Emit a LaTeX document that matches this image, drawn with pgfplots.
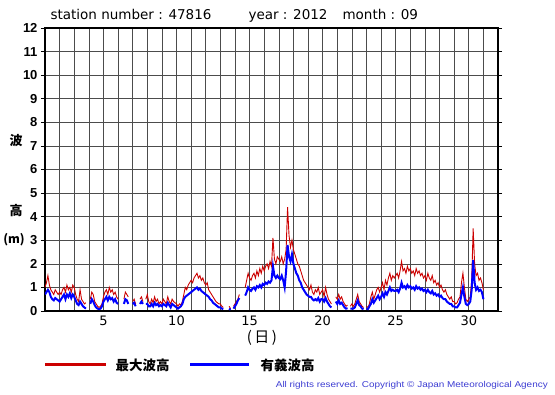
\documentclass[border=0pt]{standalone}
\usepackage{pgfplots}
\pgfplotsset{compat=1.18}
\usepackage{pgfplotstable}
\usepackage{fontspec}
\setmainfont{DejaVu Sans}
\newfontfamily\lib{Liberation Sans}
\newfontfamily\jp{Noto Sans CJK JP}
\definecolor{wred}{RGB}{204,0,0}
\definecolor{wblue}{RGB}{0,0,255}
\definecolor{cpblue}{RGB}{60,60,210}

\pgfplotstableread{
x r b
1.0 1.0 0.7
1.1 1.2 0.8
1.2 1.5 0.9
1.3 1.1 0.8
1.4 0.9 0.6
1.5 0.8 0.5
1.6 0.7 0.45
1.7 0.9 0.55
1.8 0.8 0.5
1.9 0.7 0.45
2.0 0.8 0.4
2.1 0.7 0.5
2.2 0.9 0.6
2.3 1.0 0.7
2.4 0.8 0.5
2.5 1.1 0.7
2.6 0.9 0.6
2.7 1.0 0.75
2.8 0.8 0.55
2.9 1.1 0.7
3.0 1.0 0.6
3.1 0.7 0.45
3.2 0.5 0.3
3.3 0.4 0.25
3.4 0.9 0.4
3.5 0.5 0.3
3.6 0.4 0.2
3.7 0.3 0.15
3.8 0.35 0.1
3.9 nan nan
4.0 nan nan
4.1 0.5 0.3
4.2 0.8 0.5
4.3 0.7 0.4
4.4 0.4 0.25
4.5 0.3 0.15
4.6 0.2 0.1
4.7 0.15 0.08
4.8 0.2 0.1
4.9 0.3 0.2
5.0 0.6 0.4
5.1 0.8 0.5
5.2 0.9 0.6
5.3 0.7 0.45
5.4 1.0 0.6
5.5 0.8 0.5
5.6 0.9 0.55
5.7 0.7 0.4
5.8 0.8 0.5
5.9 0.6 0.35
6.0 0.5 0.3
6.1 nan nan
6.2 0.6 0.4
6.3 nan nan
6.4 0.5 0.3
6.5 0.8 0.5
6.6 0.7 0.45
6.7 0.6 0.3
6.8 nan nan
6.9 nan nan
7.0 0.4 0.3
7.1 0.5 0.35
7.2 0.3 0.2
7.3 nan nan
7.4 nan nan
7.5 0.5 0.3
7.6 0.6 0.4
7.7 0.4 0.3
7.8 nan nan
7.9 0.5 0.3
8.0 0.7 0.3
8.1 0.4 0.2
8.2 0.3 0.2
8.3 0.5 0.3
8.4 0.35 0.2
8.5 0.6 0.35
8.6 0.4 0.25
8.7 0.5 0.3
8.8 0.3 0.2
8.9 0.4 0.25
9.0 0.3 0.2
9.1 0.5 0.3
9.2 0.4 0.25
9.3 0.3 0.2
9.4 0.6 0.35
9.5 0.4 0.25
9.6 0.3 0.15
9.7 0.5 0.3
9.8 0.4 0.25
9.9 0.35 0.2
10.0 0.3 0.15
10.1 0.2 0.1
10.2 0.3 0.15
10.3 0.25 0.2
10.4 0.4 0.3
10.5 0.7 0.5
10.6 1.0 0.6
10.7 0.9 0.65
10.8 1.1 0.7
10.9 1.2 0.75
11.0 1.3 0.8
11.1 1.2 0.85
11.2 1.4 0.9
11.3 1.5 0.95
11.4 1.6 1.0
11.5 1.4 0.9
11.6 1.5 0.95
11.7 1.3 0.85
11.8 1.4 0.8
11.9 1.2 0.75
12.0 1.1 0.7
12.1 1.2 0.65
12.2 0.9 0.6
12.3 0.8 0.5
12.4 0.7 0.45
12.5 0.6 0.35
12.6 0.5 0.3
12.7 0.4 0.25
12.8 0.35 0.2
12.9 0.3 0.15
13.0 0.3 0.15
13.1 0.2 0.1
13.2 0.15 0.08
13.3 nan nan
13.4 0.1 0.05
13.5 nan nan
13.6 0.2 0.1
13.7 0.1 0.05
13.8 nan nan
13.9 0.2 0.1
14.0 0.3 0.2
14.1 0.4 0.3
14.2 0.5 0.45
14.3 0.7 0.55
14.4 nan nan
14.5 nan nan
14.6 nan nan
14.7 1.0 0.65
14.8 1.3 0.8
14.9 1.6 1.0
15.0 1.4 0.9
15.1 1.3 0.85
15.2 1.5 0.95
15.3 1.6 1.0
15.4 1.4 0.9
15.5 1.7 1.05
15.6 1.5 1.0
15.7 1.8 1.1
15.8 1.6 1.0
15.9 1.9 1.15
16.0 1.7 1.1
16.1 1.9 1.2
16.2 2.0 1.15
16.3 1.8 1.25
16.4 2.1 1.2
16.5 1.9 1.3
16.6 3.1 1.9
16.7 2.2 1.5
16.8 2.0 1.4
16.9 2.3 1.5
17.0 2.2 1.4
17.1 2.1 1.35
17.2 2.3 1.5
17.3 2.0 1.3
17.4 2.2 1.0
17.5 2.6 1.7
17.6 4.4 2.8
17.7 3.2 2.3
17.8 2.7 2.1
17.9 3.0 2.4
18.0 2.6 2.0
18.1 2.4 1.8
18.2 2.2 1.6
18.3 2.0 1.5
18.4 1.9 1.3
18.5 1.7 1.2
18.6 1.5 1.0
18.7 1.3 0.9
18.8 1.2 0.8
18.9 1.1 0.7
19.0 1.0 0.65
19.1 0.9 0.6
19.2 1.1 0.6
19.3 0.8 0.5
19.4 0.7 0.45
19.5 0.9 0.5
19.6 0.8 0.45
19.7 1.0 0.55
19.8 0.7 0.4
19.9 0.8 0.5
20.0 0.9 0.5
20.1 0.6 0.4
20.2 1.0 0.55
20.3 0.7 0.4
20.4 0.5 0.3
20.5 0.4 0.2
20.6 0.3 0.15
20.7 nan nan
20.8 nan nan
20.9 0.6 0.4
21.0 0.5 0.3
21.1 0.7 0.45
21.2 0.5 0.3
21.3 0.6 0.35
21.4 0.4 0.25
21.5 0.3 0.15
21.6 0.2 0.1
21.7 0.25 0.12
21.8 nan nan
21.9 0.2 0.1
22.0 0.3 0.1
22.1 0.2 0.1
22.2 0.3 0.15
22.3 0.5 0.3
22.4 0.7 0.45
22.5 0.4 0.25
22.6 0.3 0.2
22.7 0.2 0.1
22.8 0.15 0.08
22.9 nan nan
23.0 0.2 0.1
23.1 0.15 0.08
23.2 0.3 0.2
23.3 0.6 0.3
23.4 0.8 0.5
23.5 0.5 0.35
23.6 0.7 0.45
23.7 0.9 0.55
23.8 1.0 0.65
23.9 0.8 0.5
24.0 1.0 0.6
24.1 1.2 0.75
24.2 0.9 0.6
24.3 1.3 0.8
24.4 1.1 0.7
24.5 1.4 0.85
24.6 1.6 1.0
24.7 1.3 0.85
24.8 1.5 0.9
24.9 1.4 0.85
25.0 1.5 0.85
25.1 1.6 0.9
25.2 1.4 0.8
25.3 1.7 0.95
25.4 2.1 1.2
25.5 1.7 1.0
25.6 1.8 1.05
25.7 1.6 0.95
25.8 1.9 1.1
25.9 1.7 1.0
26.0 1.8 1.05
26.1 1.6 0.95
26.2 1.7 1.0
26.3 1.5 0.9
26.4 1.8 1.05
26.5 1.6 0.95
26.6 1.7 1.0
26.7 1.5 0.9
26.8 1.6 0.95
26.9 1.4 0.85
27.0 1.5 0.9
27.1 1.3 0.8
27.2 1.6 0.9
27.3 1.4 0.8
27.4 1.3 0.75
27.5 1.5 0.85
27.6 1.2 0.7
27.7 1.3 0.75
27.8 1.1 0.65
27.9 1.2 0.7
28.0 1.0 0.6
28.1 1.1 0.65
28.2 0.9 0.55
28.3 0.8 0.5
28.4 0.9 0.5
28.5 0.7 0.4
28.6 0.6 0.35
28.7 0.5 0.3
28.8 0.6 0.3
28.9 0.4 0.2
29.0 0.4 0.2
29.1 0.3 0.15
29.2 0.35 0.15
29.3 0.5 0.25
29.4 0.6 0.35
29.5 1.2 0.7
29.6 1.6 1.0
29.7 1.0 0.6
29.8 0.5 0.3
29.9 0.4 0.25
30.0 0.5 0.3
30.1 0.6 0.4
30.2 1.3 0.9
30.3 3.5 2.16
30.4 2.0 1.2
30.5 1.5 0.9
30.6 1.6 1.0
30.7 1.3 0.85
30.8 1.4 0.9
30.9 1.2 0.8
31.0 0.9 0.5
}\wave

\begin{document}
\begin{tikzpicture}[x=1pt,y=1pt]
\path[use as bounding box] (0pt,0pt) rectangle (555pt,395pt);
\begin{axis}[
  at={(45pt,84pt)}, anchor=south west, scale only axis,
  width=453pt, height=283pt,
  xmin=1, xmax=32, ymin=0, ymax=12,
  xtick={5,10,...,30},
  minor xtick={1,...,32},
  ytick={0,...,12},
  grid=both,
  major grid style={black!70, line width=0.6pt},
  minor grid style={black!70, line width=0.6pt},
  axis line style={line width=1.3pt},
  xtick style={draw=none},
  minor tick length=0pt,
  ytick align=outside,
  major tick length=4pt,
  ytick style={black, line width=0.6pt},
  /pgf/number format/assume math mode=true,
  xticklabel style={font=\fontsize{13}{14}\selectfont, yshift=-1pt},
  yticklabel style={font=\lib\bfseries\fontsize{13}{14}\selectfont},
  unbounded coords=jump,
]
\addplot[wred, line width=0.9pt] table[x=x,y=r]{\wave};
\addplot[wblue, line width=2pt] table[x=x,y=b]{\wave};
\end{axis}
\node[anchor=base west, font=\fontsize{13.5}{14}\selectfont] at (47pt,375pt) {station number : 47816};
\node[anchor=base west, font=\fontsize{13.5}{14}\selectfont] at (245pt,375pt) {year : 2012};
\node[anchor=base west, font=\fontsize{13.5}{14}\selectfont] at (339pt,375pt) {month : 09};
\node[font=\jp\bfseries\fontsize{13}{13}\selectfont] at (16pt,254pt) {波};
\node[font=\jp\bfseries\fontsize{13}{13}\selectfont] at (16pt,184pt) {高};
\node[font=\jp\bfseries\fontsize{12}{12}\selectfont] at (14pt,155pt) {(m)};
\node[font=\jp\fontsize{15}{15}\selectfont] at (262pt,57pt) {(\,日\,)};
\draw[wred, line width=3pt] (45pt,30pt) -- (106pt,30pt);
\node[anchor=west, font=\jp\bfseries\fontsize{13.5}{14}\selectfont] at (112pt,30pt) {最大波高};
\draw[wblue, line width=3pt] (190pt,30pt) -- (249pt,30pt);
\node[anchor=west, font=\jp\bfseries\fontsize{13.5}{14}\selectfont] at (257pt,30pt) {有義波高};
\node[anchor=east, text=cpblue, inner sep=0pt] at (548pt,10pt) {\scalebox{1.17}[1]{\lib\fontsize{8.5}{9}\selectfont All rights reserved. Copyright © Japan Meteorological Agency}};
\end{tikzpicture}
\end{document}
